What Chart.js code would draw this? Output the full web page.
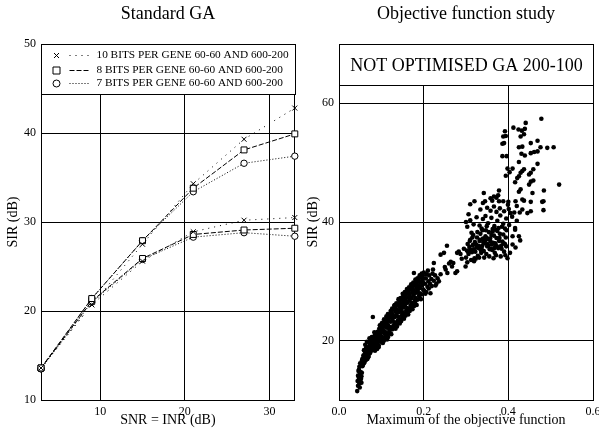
<!DOCTYPE html>
<html>
<head>
<meta charset="utf-8">
<title>Standard GA / Objective function study</title>
<script src="https://cdn.jsdelivr.net/npm/chart.js@4/dist/chart.umd.min.js"></script>
<style>
  html, body { margin: 0; padding: 0; background: #fff; }
  #wrap { position: relative; width: 599px; height: 429px; overflow: hidden; }
  canvas { position: absolute; top: 0; }
  #ga-chart { left: 0; }
  #study-chart { left: 300px; }
</style>
</head>
<body>
<div id="wrap">
  <canvas id="ga-chart" width="300" height="429"></canvas>
  <canvas id="study-chart" width="299" height="429"></canvas>
</div>
<script>
// ─── Data: Standard GA (SIR against SNR = INR) ───────────────────────
const snrDb = [3, 9, 15, 21, 27, 33];
// each legend entry has two curves: upper = 60-60, lower = 600-200
const sir10High = [13.6, 20.7, 27.5, 34.3, 39.3, 42.8];
const sir10Low  = [13.6, 20.7, 25.6, 28.9, 30.2, 30.5];
const sir8High  = [13.6, 21.4, 27.9, 33.8, 38.1, 39.9];
const sir8Low   = [13.6, 21.1, 25.9, 28.6, 29.1, 29.3];
const sir7High  = [13.5, 21.4, 27.9, 33.4, 36.6, 37.4];
const sir7Low   = [13.5, 21.0, 25.8, 28.3, 28.8, 28.4];

const gaXTicks = [10, 20, 30];
const gaYTicks = [10, 20, 30, 40, 50];

// ─── Data: Objective function study (max of objective, SIR) ──────────
const studyTail = [
  [0.043,11.5],[0.045,12.4],[0.048,12.8],[0.044,13.2],[0.050,13.3],[0.047,13.7],[0.052,13.6],
  [0.045,14.1],[0.049,14.3],[0.053,14.0],[0.051,14.7],[0.046,14.9],[0.054,14.6],[0.048,15.6],
  [0.052,15.9],[0.055,15.7],[0.050,16.2],[0.054,16.6],[0.057,16.3],[0.049,12.1],[0.053,12.9],
  [0.047,15.1],
];
const studyLow = [
  [0.055,16.9],[0.056,15.8],[0.058,17.1],[0.059,16.2],[0.060,17.6],[0.061,16.5],[0.062,18.0],
  [0.063,17.0],[0.064,16.8],[0.065,18.2],[0.066,17.3],[0.067,18.6],[0.068,17.8],[0.069,17.2],
  [0.070,18.9],[0.071,18.0],[0.072,19.2],[0.073,17.9],[0.074,18.7],[0.075,19.6],[0.076,18.3],
  [0.077,19.1],[0.078,20.0],[0.079,18.9],[0.080,19.7],[0.081,20.4],[0.082,19.2],[0.083,20.1],
  [0.084,20.8],[0.085,19.5],[0.086,20.5],[0.087,21.1],[0.088,19.8],[0.089,20.9],[0.063,18.5],
  [0.070,17.4],[0.076,19.9],[0.080,18.7],[0.067,16.9],[0.073,19.6],[0.062,19.3],[0.066,19.8],
  [0.085,18.3],[0.090,19.0],[0.072,20.4],[0.088,18.8],[0.059,18.4],[0.080,24.0],
  [0.0575,17.5],[0.0615,17.0],[0.0645,18.9],[0.0685,18.3],[0.0715,19.8],[0.0745,18.2],
  [0.0775,20.6],[0.0815,19.0],[0.0835,21.4],[0.0865,19.3],
];
const studyBand = [
  [0.090,18.6],[0.091,19.4],[0.092,20.0],[0.093,20.6],[0.094,21.3],[0.095,22.0],[0.096,19.9],
  [0.097,20.9],[0.098,21.7],[0.099,22.4],[0.091,21.5],[0.094,19.2],
  [0.100,19.8],[0.101,20.7],[0.102,21.4],[0.103,22.1],[0.104,22.9],[0.105,20.3],[0.106,21.6],
  [0.107,22.5],[0.108,23.3],[0.109,21.1],[0.102,23.0],[0.106,20.0],
  [0.110,20.5],[0.111,21.4],[0.112,22.2],[0.113,23.0],[0.114,23.8],[0.115,21.0],[0.116,22.6],
  [0.117,23.5],[0.118,24.2],[0.119,21.8],[0.112,24.1],[0.116,20.6],
  [0.120,21.3],[0.121,22.3],[0.122,23.2],[0.123,24.0],[0.124,24.8],[0.125,21.9],[0.126,23.5],
  [0.127,24.4],[0.128,25.3],[0.129,22.6],[0.122,25.0],[0.127,22.0],
  [0.130,22.2],[0.131,23.1],[0.132,24.0],[0.133,24.9],[0.134,25.7],[0.135,22.7],[0.136,24.3],
  [0.137,25.2],[0.138,26.1],[0.139,23.4],[0.132,26.0],[0.137,22.4],
  [0.140,23.0],[0.141,24.0],[0.142,24.8],[0.143,25.7],[0.144,26.5],[0.145,23.5],[0.146,25.2],
  [0.147,26.1],[0.148,27.0],[0.149,24.3],[0.142,26.8],[0.147,23.3],
  [0.150,23.9],[0.151,24.8],[0.152,25.6],[0.153,26.5],[0.154,27.3],[0.155,24.4],[0.156,26.0],
  [0.157,26.9],[0.158,27.8],[0.159,25.1],[0.152,27.6],[0.157,24.2],
  [0.160,24.6],[0.161,25.5],[0.162,26.4],[0.163,27.3],[0.164,28.1],[0.165,25.2],[0.166,26.8],
  [0.167,27.7],[0.168,28.6],[0.169,25.9],[0.162,28.4],[0.167,25.0],
  [0.170,25.5],[0.171,26.4],[0.172,27.2],[0.173,28.1],[0.174,28.9],[0.175,26.0],[0.176,27.6],
  [0.177,28.5],[0.178,29.4],[0.179,26.7],[0.172,29.2],[0.177,25.8],
  [0.180,26.3],[0.181,27.2],[0.182,28.1],[0.183,28.9],[0.184,29.7],[0.185,26.9],[0.186,28.4],
  [0.187,29.3],[0.188,30.1],[0.189,27.6],[0.182,30.0],
  [0.190,27.2],[0.191,28.0],[0.192,28.9],[0.193,29.8],[0.194,30.6],[0.195,27.8],[0.196,29.3],
  [0.197,30.2],[0.198,31.0],[0.199,28.6],
  [0.201,28.4],[0.203,29.6],[0.205,30.5],[0.207,31.2],[0.209,29.1],[0.211,30.0],[0.213,31.0],
  [0.215,29.6],[0.204,27.9],[0.212,28.8],
  [0.218,30.4],[0.221,31.3],[0.224,30.1],[0.227,31.0],[0.230,29.6],[0.233,30.5],[0.236,30.0],
  [0.240,31.2],[0.216,28.0],[0.224,33.1],[0.177,31.4],
  [0.0905,21.2],[0.0935,18.9],[0.0965,22.6],[0.0985,20.3],[0.1005,22.8],[0.1035,19.6],
  [0.1065,23.6],[0.1085,20.5],[0.1105,23.3],[0.1135,20.2],[0.1155,24.5],[0.1185,22.1],
  [0.1205,24.3],[0.1235,21.1],[0.1255,25.4],[0.1285,23.9],[0.1305,25.9],[0.1335,22.0],
  [0.1355,26.3],[0.1385,24.8],[0.1405,27.0],[0.1435,22.9],[0.1455,27.2],[0.1485,25.6],
  [0.1505,27.9],[0.1535,23.7],[0.1555,28.2],[0.1585,26.4],[0.1605,28.7],[0.1635,24.4],
  [0.1655,29.0],[0.1685,27.1],[0.1705,29.5],[0.1735,25.3],[0.1755,29.8],[0.1785,28.0],
  [0.1805,30.3],[0.1835,26.0],[0.1855,30.5],[0.1885,28.9],[0.1905,31.0],[0.1935,27.0],
  [0.1955,31.3],[0.1985,29.8],[0.2005,31.5],[0.206,28.2],[0.210,31.8],[0.219,29.2],
  [0.222,32.0],[0.228,29.3],
];
const studyMid = [
  [0.240,34.5],[0.248,34.8],[0.250,32.4],[0.252,32.0],[0.255,36.0],[0.256,31.4],[0.260,33.0],
  [0.264,33.3],[0.267,32.5],[0.270,33.1],[0.275,31.4],[0.279,31.7],[0.279,34.8],[0.283,35.0],
  [0.287,34.6],[0.290,33.8],[0.295,35.5],[0.299,32.5],
];
const studyCluster = [
  [0.300,34.0],[0.302,35.2],[0.304,36.3],[0.306,34.6],[0.308,35.8],[0.310,37.0],[0.312,33.6],
  [0.314,34.9],[0.316,36.1],[0.318,35.4],[0.320,33.9],[0.303,33.2],[0.309,36.8],[0.315,37.4],
  [0.322,35.0],[0.324,36.2],[0.326,37.4],[0.328,34.3],[0.330,35.6],[0.332,36.8],[0.334,38.0],
  [0.336,34.8],[0.338,36.0],[0.340,37.2],[0.323,33.8],[0.327,38.3],[0.331,34.0],[0.335,35.3],
  [0.339,38.6],[0.325,35.7],[0.333,37.0],
  [0.342,35.1],[0.344,36.4],[0.346,37.6],[0.348,34.6],[0.350,35.9],[0.352,37.1],[0.354,38.3],
  [0.356,35.4],[0.358,36.7],[0.360,37.8],[0.343,34.0],[0.347,38.6],[0.351,36.3],[0.355,34.2],
  [0.359,35.5],[0.345,36.9],[0.353,36.0],
  [0.362,35.3],[0.364,36.5],[0.366,37.7],[0.368,34.8],[0.370,36.1],[0.372,37.3],[0.374,38.5],
  [0.376,35.6],[0.378,36.8],[0.380,38.0],[0.365,33.9],[0.371,34.4],[0.377,39.0],[0.363,38.4],
  [0.369,36.4],
  [0.382,34.2],[0.384,35.5],[0.386,36.7],[0.388,37.9],[0.390,35.0],[0.392,36.3],[0.394,37.4],
  [0.396,38.6],[0.398,33.9],[0.385,39.2],[0.393,34.4],[0.319,33.4],
  [0.410,36.2],[0.425,37.6],[0.410,37.6],[0.404,34.8],[0.416,38.7],[0.428,36.9],[0.417,35.7],
  [0.305,35.0],[0.311,35.3],[0.317,37.8],[0.321,36.6],[0.329,36.0],[0.337,35.6],[0.341,36.6],
  [0.349,37.3],[0.357,37.2],[0.361,36.2],[0.367,35.6],[0.373,35.9],[0.379,37.3],[0.383,36.0],
  [0.389,36.4],[0.395,35.9],[0.313,38.2],[0.349,39.3],[0.371,38.7],
];
const studyUpper = [
  [0.303,39.2],[0.310,40.3],[0.318,39.6],[0.325,40.8],[0.332,39.4],[0.340,40.5],[0.346,41.0],
  [0.352,39.8],[0.360,40.7],[0.367,39.3],[0.374,40.2],[0.381,41.1],[0.388,39.7],[0.395,40.6],
  [0.402,39.5],[0.409,40.9],[0.416,39.0],[0.306,41.3],[0.337,38.9],[0.363,38.8],[0.392,38.9],
  [0.420,40.2],[0.414,41.6],[0.300,40.0],
  [0.334,42.1],[0.340,43.2],[0.350,42.4],[0.358,41.9],[0.366,42.6],[0.372,41.7],[0.380,42.3],
  [0.390,41.8],[0.401,42.2],[0.405,41.5],[0.420,42.7],[0.427,41.6],[0.433,42.1],[0.445,41.5],
  [0.453,41.8],[0.483,42.0],[0.310,43.0],[0.320,43.5],[0.345,43.5],[0.362,43.6],[0.378,43.5],
  [0.388,43.5],[0.400,43.4],[0.417,43.5],[0.433,43.8],[0.437,43.6],[0.453,43.4],[0.480,43.4],
  [0.483,43.5],[0.399,42.9],
  [0.342,44.9],[0.358,44.0],[0.366,44.3],[0.372,44.1],[0.376,44.5],[0.378,45.3],[0.425,45.1],
  [0.429,45.5],[0.457,44.9],[0.484,45.3],
];
const studyTop = [
  [0.416,46.7],[0.449,46.3],[0.453,46.8],[0.459,47.0],[0.421,47.4],[0.425,47.7],[0.394,47.8],
  [0.449,48.0],[0.453,48.3],[0.459,48.9],[0.429,48.3],[0.433,48.6],[0.437,48.9],[0.398,49.0],
  [0.410,49.0],[0.403,48.4],[0.469,49.8],[0.425,50.1],[0.386,51.1],[0.396,51.1],[0.439,51.2],
  [0.431,51.5],[0.453,51.6],[0.461,51.8],[0.469,51.9],[0.425,52.6],[0.433,52.7],[0.476,52.6],
  [0.492,52.5],[0.507,52.6],[0.453,53.3],[0.469,53.7],[0.386,53.2],[0.390,53.3],[0.388,54.4],
  [0.394,54.5],[0.392,55.3],[0.429,54.4],[0.437,54.8],[0.424,55.6],[0.432,55.4],[0.439,55.7],
  [0.412,55.9],[0.441,56.7],[0.478,57.4],[0.520,46.3],
];

const studyXTicks = [0, 0.2, 0.4, 0.6];
const studyYTicks = [20, 40, 60];

// ─── Shared look ──────────────────────────────────────────────────────
const SERIF = "'Liberation Serif', 'Times New Roman', serif";
const serif = (size) => ({ family: SERIF, size, weight: "normal" });

Chart.defaults.font.family = SERIF;
Chart.defaults.color = "#000";

// Linear axis boxed by grid lines at both ends; only `labelled` get text.
function boxedScale(min, max, labelled, title, fmt, fit, titlePad) {
  const marks = [min, ...labelled.filter((v) => v > min && v < max), max];
  return {
    type: "linear",
    min,
    max,
    afterBuildTicks: (s) => { s.ticks = marks.map((value) => ({ value })); },
    afterFit: (s) => {
      Object.assign(s, fit);
      s.paddingLeft = s.paddingRight = s.paddingTop = s.paddingBottom = 0;
    },
    ticks: {
      autoSkip: false,
      maxRotation: 0,
      padding: 5,
      color: "#000",
      font: serif(12),
      callback: (v) => (labelled.includes(v) ? fmt(v) : ""),
    },
    grid: { color: "#000", lineWidth: 1, drawTicks: false },
    border: { color: "#000", width: 1 },
    title: { display: true, text: title, color: "#000", font: serif(14), padding: titlePad },
  };
}

function chartTitle(text) {
  return {
    display: true,
    text,
    fullSize: false,
    color: "#000",
    font: serif(18),
    padding: { top: 3, bottom: 19.4 },
  };
}

// ─── Boxed legend drawn over the top strip of the plot ───────────────
function drawMarker(ctx, style, x, y) {
  ctx.beginPath();
  if (style === "crossRot") {
    ctx.moveTo(x - 2.5, y - 2.5); ctx.lineTo(x + 2.5, y + 2.5);
    ctx.moveTo(x + 2.5, y - 2.5); ctx.lineTo(x - 2.5, y + 2.5);
  } else if (style === "rect") {
    ctx.rect(x - 3.5, y - 3.5, 7, 7);
  } else {
    ctx.arc(x, y, 3.5, 0, Math.PI * 2);
  }
  ctx.stroke();
}

const boxLegend = {
  id: "boxLegend",
  beforeDatasetsDraw(chart, args, opts) {
    const { ctx, chartArea: a } = chart;
    const left = Math.round(a.left) + 0.5;
    const top = Math.round(a.top) + 0.5;
    const w = Math.round(a.right - a.left);
    ctx.save();
    ctx.fillStyle = "#fff";
    ctx.fillRect(left, top, w, opts.height);
    ctx.strokeStyle = "#000";
    ctx.lineWidth = 1;
    ctx.strokeRect(left, top, w, opts.height);
    ctx.fillStyle = "#000";
    ctx.textBaseline = "middle";
    ctx.font = opts.font;
    const items = chart.data.datasets.filter((d) => d.label);
    items.forEach((ds, i) => {
      const y = Math.round(a.top + opts.rows[i]) + 0.5;
      if (opts.centered) {
        ctx.textAlign = "center";
        ctx.fillText(ds.label, left + w / 2, y);
        return;
      }
      drawMarker(ctx, ds.pointStyle, left + 15, y);
      ctx.setLineDash(ds.borderDash);
      ctx.beginPath();
      ctx.moveTo(left + 28, y);
      ctx.lineTo(left + 47, y);
      ctx.stroke();
      ctx.setLineDash([]);
      ctx.textAlign = "left";
      ctx.fillText(ds.label, left + 55, y);
    });
    ctx.restore();
  },
};

// ─── Standard GA chart ────────────────────────────────────────────────
function gaCurve(values, label, pointStyle, dash, radius) {
  return {
    label,
    data: snrDb.map((x, i) => ({ x, y: values[i] })),
    borderColor: "#000",
    borderWidth: 1,
    borderDash: dash,
    pointStyle,
    pointRadius: radius,
    pointBorderWidth: 1,
    pointBorderColor: "#000",
    pointBackgroundColor: "#fff",
    tension: 0,
    clip: false,
  };
}

new Chart(document.getElementById("ga-chart"), {
  type: "line",
  data: {
    datasets: [
      gaCurve(sir10High, "10 BITS PER GENE 60-60 AND 600-200", "crossRot", [1, 5], 3.5),
      gaCurve(sir8High, "8 BITS PER GENE 60-60 AND 600-200", "rect", [5, 2], 4.2),
      gaCurve(sir7High, "7 BITS PER GENE 60-60 AND 600-200", "circle", [1, 2], 3.2),
      gaCurve(sir10Low, "", "crossRot", [1, 5], 3.5),
      gaCurve(sir8Low, "", "rect", [5, 2], 4.2),
      gaCurve(sir7Low, "", "circle", [1, 2], 3.2),
    ],
  },
  options: {
    responsive: false,
    animation: false,
    layout: { padding: { left: 0, right: 5, top: 0, bottom: 0 } },
    scales: {
      x: boxedScale(3, 33, gaXTicks, "SNR = INR (dB)", (v) => String(v), { height: 29 }, { top: 0, bottom: 0 }),
      y: boxedScale(10, 50, gaYTicks, "SIR (dB)", (v) => String(v), { width: 41 }, { top: 5, bottom: 0 }),
    },
    plugins: {
      legend: { display: false },
      tooltip: { enabled: false },
      title: chartTitle("Standard GA"),
      boxLegend: { height: 50, rows: [11, 25.5, 39], font: "11.3px " + SERIF },
    },
  },
  plugins: [boxLegend],
});

// ─── Objective function study chart ──────────────────────────────────
const studyPoints = [
  ...studyTail, ...studyLow, ...studyBand, ...studyMid,
  ...studyCluster, ...studyUpper, ...studyTop,
].map(([x, y]) => ({ x, y }));

new Chart(document.getElementById("study-chart"), {
  type: "scatter",
  data: {
    datasets: [
      {
        label: "NOT OPTIMISED GA 200-100",
        data: studyPoints,
        pointRadius: 2.3,
        pointBorderWidth: 0,
        pointBackgroundColor: "#000",
        borderColor: "#000",
      },
    ],
  },
  options: {
    responsive: false,
    animation: false,
    layout: { padding: { left: 0, right: 6, top: 0, bottom: 0 } },
    scales: {
      x: boxedScale(0, 0.6, studyXTicks, "Maximum of the objective function", (v) => v.toFixed(1), { height: 29 }, { top: 0, bottom: 0 }),
      y: boxedScale(10, 70, studyYTicks, "SIR (dB)", (v) => String(v), { width: 39 }, { top: 5, bottom: 0 }),
    },
    plugins: {
      legend: { display: false },
      tooltip: { enabled: false },
      title: chartTitle("Objective function study"),
      boxLegend: { height: 41, rows: [22], font: "18px " + SERIF, centered: true },
    },
  },
  plugins: [boxLegend],
});
</script>
</body>
</html>
